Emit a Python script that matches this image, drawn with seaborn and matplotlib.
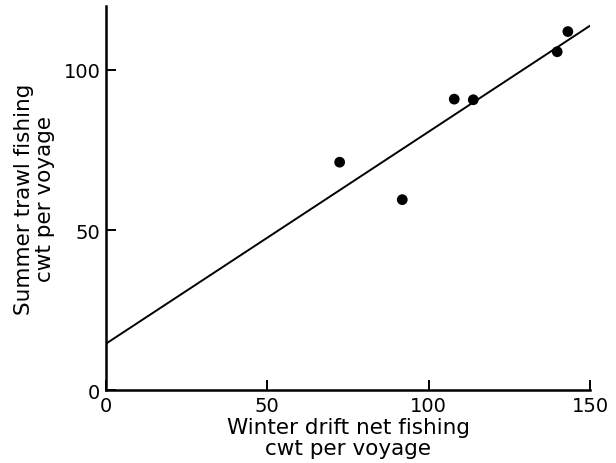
import numpy as np
import pandas as pd
import seaborn as sns
import matplotlib
matplotlib.use("Agg")
import matplotlib.pyplot as plt

# catch per voyage (cwt)
winter_drift = [72.4, 91.8, 107.9, 113.8, 139.8, 143.1]
summer_trawl = [71.2, 59.5, 90.9, 90.7, 105.7, 112.0]

df = pd.DataFrame({"winter": winter_drift, "summer": summer_trawl})

sns.set_style("ticks")
plt.rcParams['font.family'] = ['DejaVu Sans']

fig = plt.figure(figsize=(6.16, 4.64), dpi=100)
ax = fig.add_axes([0.172, 0.157, 0.786, 0.828])
ax.set_xlim(0, 150)
ax.set_ylim(0, 120)

sns.regplot(data=df, x="winter", y="summer", ax=ax, ci=None, truncate=False,
            scatter_kws={"s": 60, "color": "black", "alpha": 1,
                         "edgecolor": "none", "zorder": 3},
            line_kws={"color": "black", "lw": 1.4})

ax.set_xlim(0, 150)
ax.set_ylim(0, 120)
ax.set_xticks([0, 50, 100, 150])
ax.set_yticks([0, 50, 100])

sns.despine(ax=ax)
for side in ["left", "bottom"]:
    ax.spines[side].set_linewidth(1.8)
    ax.spines[side].set_color("black")

ax.tick_params(direction="in", length=7, width=1.4, colors="black",
               labelcolor="black", labelsize=14, pad=4)

ax.set_xlabel("Winter drift net fishing\ncwt per voyage", fontsize=15.5,
              color="black", linespacing=1.05, labelpad=2)
ax.set_ylabel("Summer trawl fishing\ncwt per voyage", fontsize=15.5,
              color="black", linespacing=1.05, labelpad=6)

fig.savefig("out.png", dpi=100)
